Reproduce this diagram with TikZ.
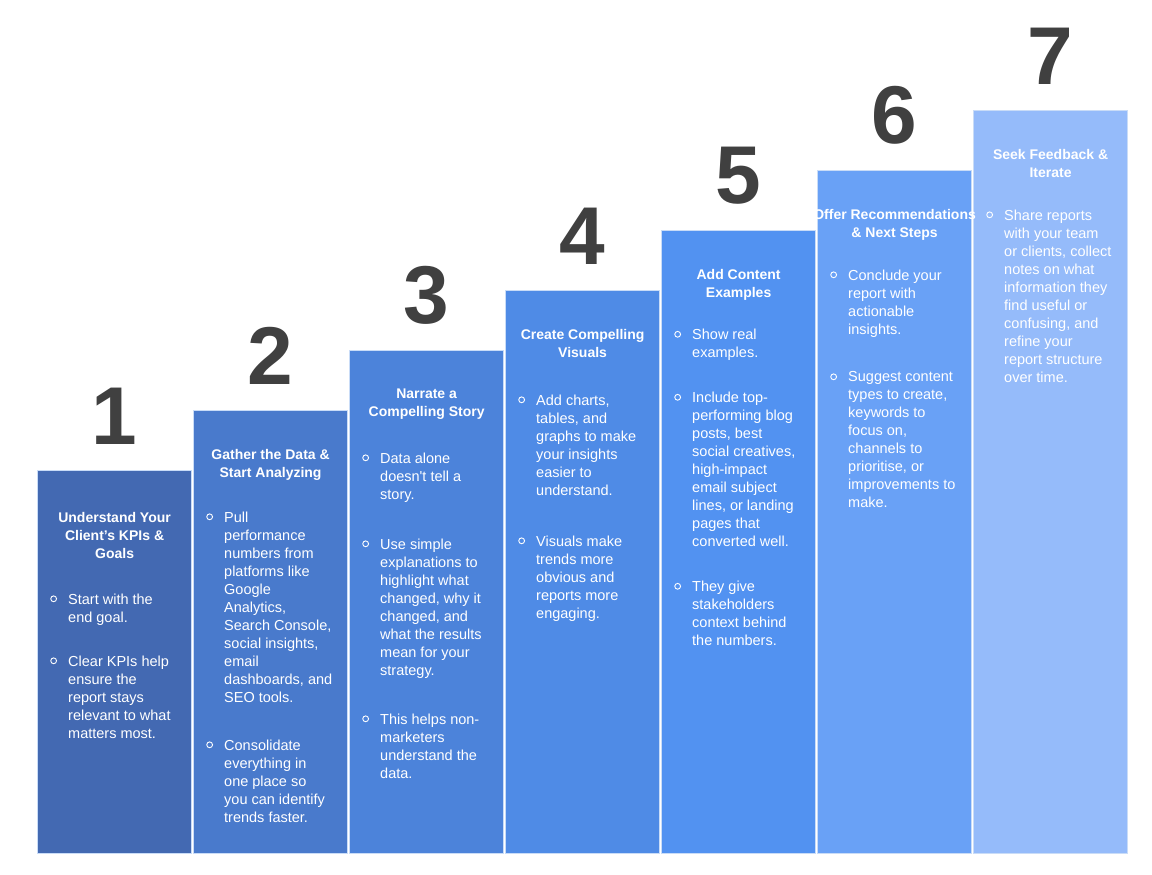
\documentclass[tikz,border=0pt]{standalone}
\usepackage{fontspec}
\setmainfont{Liberation Sans}
\usetikzlibrary{positioning}
\definecolor{bar1}{HTML}{4369B2}
\definecolor{bar2}{HTML}{497ACC}
\definecolor{bar3}{HTML}{4C83DA}
\definecolor{bar4}{HTML}{4F8BE6}
\definecolor{bar5}{HTML}{5292F1}
\definecolor{bar6}{HTML}{69A1F6}
\definecolor{bar7}{HTML}{95BBFA}
\definecolor{barline}{HTML}{C9DCF7}
\definecolor{numgray}{HTML}{404040}
\tikzset{x=1pt,y=-1pt,
  bar/.style={draw=barline, line width=1.2pt, minimum width=154pt, inner sep=0pt, anchor=south west},
  num/.style={font=\fontsize{82}{82}\selectfont\bfseries, text=numgray, inner sep=0pt},
  head/.style={font=\fontsize{14}{18}\selectfont\bfseries, text=white, align=center, inner sep=0pt},
  txt/.style={font=\fontsize{14.5}{18}\selectfont, text=white, align=left, inner sep=0pt},
  dot/.style={circle, draw=white, line width=0.9pt, minimum size=5.8pt, inner sep=0pt}
}

\begin{document}
\begin{tikzpicture}
\useasboundingbox[fill=white] (0,0) rectangle (1152,875);

% steps
\foreach \i/\c in {1/bar1,2/bar2,3/bar3,4/bar4,5/bar5,6/bar6,7/bar7}{
  \pgfmathsetmacro\h{383+(\i-1)*60}
  \pgfmathsetmacro\xl{37+(\i-1)*156}
  \node[bar, fill=\c, minimum height=\h pt] (b\i) at (\xl,854) {};
  \node[num, above=25pt of b\i.north] (n\i) {\i};
}

% headings
\foreach \i/\o/\t in {1/42.5/{Understand Your\\Client’s KPIs \&\\Goals},
    2/39/{Gather the Data \&\\Start Analyzing},
    3/39/{Narrate a\\Compelling Story},
    4/39/{Create Compelling\\Visuals},
    5/39/{Add Content\\Examples},
    6/39/{Offer Recommendations\\\& Next Steps},
    7/39/{Seek Feedback \&\\Iterate}}
  \node[head, below=\o pt of b\i.north] (h\i) {\t};

% points
\node[txt, below right=123.5pt and 31pt of b1.north west] (t1a) {Start with the\\end goal.};
\node[txt, below right=185.5pt and 31pt of b1.north west] (t1b) {Clear KPIs help\\ensure the\\report stays\\relevant to what\\matters most.};

\node[txt, below right=101.5pt and 31pt of b2.north west] (t2a) {Pull\\performance\\numbers from\\platforms like\\Google\\Analytics,\\Search Console,\\social insights,\\email\\dashboards, and\\SEO tools.};
\node[txt, below right=329.5pt and 31pt of b2.north west] (t2b) {Consolidate\\everything in\\one place so\\you can identify\\trends faster.};

\node[txt, below right=102.5pt and 31pt of b3.north west] (t3a) {Data alone\\doesn\textquotesingle t tell a\\story.};
\node[txt, below right=188.5pt and 31pt of b3.north west] (t3b) {Use simple\\explanations to\\highlight what\\changed, why it\\changed, and\\what the results\\mean for your\\strategy.};
\node[txt, below right=363.5pt and 31pt of b3.north west] (t3c) {This helps non-\\marketers\\understand the\\data.};

\node[txt, below right=104.5pt and 31pt of b4.north west] (t4a) {Add charts,\\tables, and\\graphs to make\\your insights\\easier to\\understand.};
\node[txt, below right=245.5pt and 31pt of b4.north west] (t4b) {Visuals make\\trends more\\obvious and\\reports more\\engaging.};

\node[txt, below right=99pt and 31pt of b5.north west] (t5a) {Show real\\examples.};
\node[txt, below right=162pt and 31pt of b5.north west] (t5b) {Include top-\\performing blog\\posts, best\\social creatives,\\high-impact\\email subject\\lines, or landing\\pages that\\converted well.};
\node[txt, below right=351pt and 31pt of b5.north west] (t5c) {They give\\stakeholders\\context behind\\the numbers.};

\node[txt, below right=99.5pt and 31pt of b6.north west] (t6a) {Conclude your\\report with\\actionable\\insights.};
\node[txt, below right=201.5pt and 31pt of b6.north west] (t6b) {Suggest content\\types to create,\\keywords to\\focus on,\\channels to\\prioritise, or\\improvements to\\make.};

\node[txt, below right=99.5pt and 31pt of b7.north west] (t7a) {Share reports\\with your team\\or clients, collect\\notes on what\\information they\\find useful or\\confusing, and\\refine your\\report structure\\over time.};

% bullet rings
\foreach \n in {t1a,t1b,t2a,t2b,t3a,t3b,t3c,t4a,t4b,t5a,t5b,t5c,t6a,t6b,t7a}
  \node[dot, left=11pt of \n.north west, yshift=-5.5pt] (d-\n) {};
\end{tikzpicture}
\end{document}
